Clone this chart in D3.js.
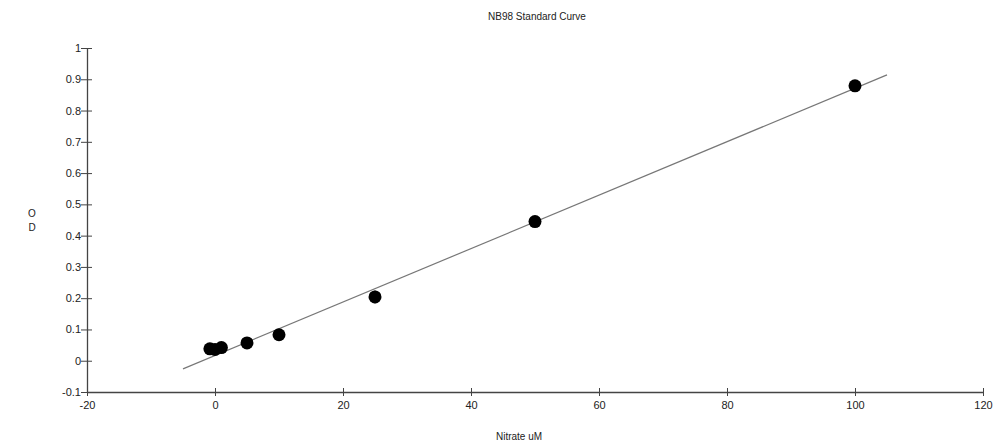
<!DOCTYPE html>
<html>
<head>
<meta charset="utf-8">
<script src="https://cdn.jsdelivr.net/npm/d3@7"></script>
<style>
  body { margin: 0; background: #fff; }
  text { font-family: "Liberation Sans", Arial, sans-serif; }
</style>
</head>
<body>
<svg id="chart" width="997" height="446"></svg>
<script>
// Standard curve data
const nitrate = [-0.8, 0, 1, 5, 10, 25, 50, 100];
const od = [0.038, 0.036, 0.042, 0.057, 0.083, 0.204, 0.445, 0.879];
const odErr = [0.008, 0.01, 0.008, 0.01, 0.01, 0.02, 0.018, 0.012];
const fitX = [-5, 105];
const fitY = [-0.026, 0.914];
const xTicks = [-20, 0, 20, 40, 60, 80, 100, 120];
const yTicks = [-0.1, 0, 0.1, 0.2, 0.3, 0.4, 0.5, 0.6, 0.7, 0.8, 0.9, 1];

const svg = d3.select('#chart');
const axisColor = '#444';
const fmt = d => String(+d.toFixed(2));

const x = d3.scaleLinear().domain([-20, 120]).range([87, 983]);
const y = d3.scaleLinear().domain([-0.1, 1]).range([392, 48]);

// Title
svg.append('text')
  .attr('x', 537).attr('y', 20)
  .attr('text-anchor', 'middle')
  .style('font-size', '10px')
  .style('fill', '#222')
  .text('NB98 Standard Curve');

// Eje X
const gx = svg.append('g')
  .attr('transform', `translate(0,${y(-0.1)})`)
  .call(d3.axisBottom(x).tickValues(xTicks).tickSize(10).tickSizeOuter(0).tickFormat(fmt));
gx.select('.domain').attr('stroke', axisColor).attr('stroke-width', 1.3);
gx.selectAll('.tick line').attr('stroke', axisColor).attr('y1', -4).attr('y2', 4);
gx.selectAll('.tick text').attr('y', 9).attr('dy', '0.71em')
  .style('font-size', '11px').style('fill', '#222').style('font-family', '"Liberation Sans", Arial, sans-serif');

// Eje Y
const gy = svg.append('g')
  .attr('transform', `translate(${x(-20)},0)`)
  .call(d3.axisLeft(y).tickValues(yTicks).tickSize(10).tickSizeOuter(0).tickFormat(fmt));
gy.select('.domain').attr('stroke', axisColor).attr('stroke-width', 1.3);
gy.selectAll('.tick line').attr('stroke', axisColor).attr('x1', -6).attr('x2', 5);
gy.selectAll('.tick text').attr('x', -6)
  .style('font-size', '11px').style('fill', '#222').style('font-family', '"Liberation Sans", Arial, sans-serif');

// Axis labels
svg.append('text')
  .attr('x', 519).attr('y', 440)
  .attr('text-anchor', 'middle')
  .style('font-size', '10px').style('fill', '#222')
  .text('Nitrate uM');

const yl = svg.append('text')
  .attr('x', 32).attr('y', 217)
  .attr('text-anchor', 'middle')
  .style('font-size', '10px').style('fill', '#222');
yl.append('tspan').attr('x', 32).text('O');
yl.append('tspan').attr('x', 32).attr('dy', 14).text('D');

// Fit line
const line = d3.line().x(d => x(d[0])).y(d => y(d[1]));
svg.append('path')
  .datum(d3.zip(fitX, fitY))
  .attr('d', line)
  .attr('fill', 'none')
  .attr('stroke', '#777')
  .attr('stroke-width', 1.2);

const pts = nitrate.map((v, i) => ({ x: v, y: od[i], e: odErr[i] }));

// Error bars
svg.selectAll('.err')
  .data(pts)
  .enter()
  .append('line')
  .attr('x1', d => x(d.x)).attr('x2', d => x(d.x))
  .attr('y1', d => y(d.y + d.e)).attr('y2', d => y(d.y - d.e))
  .attr('stroke', '#000')
  .attr('stroke-width', 2.5);

// Points
svg.selectAll('.pt')
  .data(pts)
  .enter()
  .append('circle')
  .attr('cx', d => x(d.x))
  .attr('cy', d => y(d.y))
  .attr('r', 6.5)
  .attr('fill', '#000');
</script>
</body>
</html>
